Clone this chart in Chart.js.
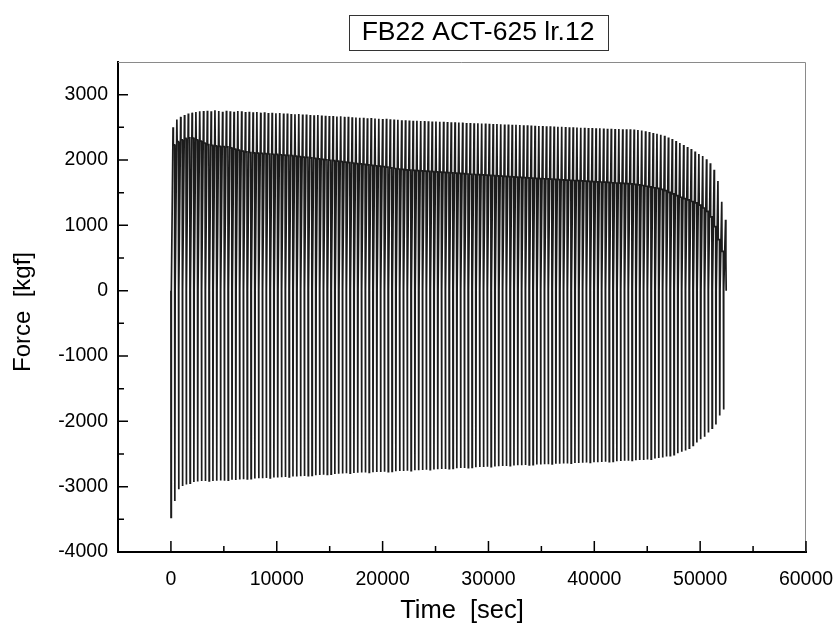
<!DOCTYPE html>
<html>
<head>
<meta charset="utf-8">
<script src="https://cdn.jsdelivr.net/npm/chart.js@4.4.0/dist/chart.umd.min.js"></script>
<style>
html, body { margin: 0; padding: 0; background: #fff; }
#wrap { width: 835px; height: 629px; }
</style>
</head>
<body>
<div id="wrap"><canvas id="forceChart" width="835" height="629"></canvas></div>
<script>
var chartTitle = 'FB22 ACT-625 lr.12';
var xTitle = 'Time  [sec]';
var yTitle = 'Force  [kgf]';

// start time of each load cycle [sec]
var cycleTimes = [
    0, 360, 720, 1080, 1440, 1800, 2160, 2520, 2880, 3240,
    3600, 3960, 4320, 4680, 5040, 5400, 5760, 6120, 6480, 6840,
    7200, 7560, 7920, 8280, 8640, 9000, 9360, 9720, 10080, 10440,
    10800, 11160, 11520, 11880, 12240, 12600, 12960, 13320, 13680, 14040,
    14400, 14760, 15120, 15480, 15840, 16200, 16560, 16920, 17280, 17640,
    18000, 18360, 18720, 19080, 19440, 19800, 20160, 20520, 20880, 21240,
    21600, 21960, 22320, 22680, 23040, 23400, 23760, 24120, 24480, 24840,
    25200, 25560, 25920, 26280, 26640, 27000, 27360, 27720, 28080, 28440,
    28800, 29160, 29520, 29880, 30240, 30600, 30960, 31320, 31680, 32040,
    32400, 32760, 33120, 33480, 33840, 34200, 34560, 34920, 35280, 35640,
    36000, 36360, 36720, 37080, 37440, 37800, 38160, 38520, 38880, 39240,
    39600, 39960, 40320, 40680, 41040, 41400, 41760, 42120, 42480, 42840,
    43200, 43560, 43920, 44280, 44640, 45000, 45360, 45720, 46080, 46440,
    46800, 47160, 47520, 47880, 48240, 48600, 48960, 49320, 49680, 50040,
    50400, 50760, 51120, 51480, 51840, 52200
];

// max force of each cycle [kgf]
var peakForce = [
    2500, 2620, 2660, 2690, 2710, 2725, 2735, 2745, 2750, 2755,
    2745, 2760, 2750, 2740, 2755, 2745, 2740, 2750, 2745, 2735,
    2740, 2730, 2735, 2725, 2730, 2720, 2725, 2715, 2718, 2710,
    2712, 2705, 2700, 2705, 2695, 2698, 2690, 2685, 2688, 2680,
    2678, 2672, 2675, 2665, 2668, 2660, 2662, 2655, 2652, 2648,
    2645, 2640, 2642, 2635, 2632, 2628, 2630, 2622, 2618, 2615,
    2610, 2608, 2605, 2602, 2600, 2598, 2595, 2592, 2590, 2588,
    2586, 2584, 2580, 2578, 2576, 2574, 2572, 2568, 2566, 2564,
    2562, 2560, 2558, 2555, 2552, 2550, 2548, 2545, 2542, 2540,
    2538, 2535, 2533, 2530, 2528, 2525, 2522, 2520, 2518, 2515,
    2512, 2510, 2508, 2505, 2502, 2500, 2498, 2495, 2493, 2490,
    2488, 2486, 2484, 2482, 2480, 2478, 2476, 2474, 2472, 2471,
    2470, 2465, 2460, 2450, 2440, 2430, 2415, 2400, 2385, 2370,
    2345, 2320, 2290, 2260, 2230, 2200, 2170, 2130, 2090, 2060,
    2010, 1950, 1850, 1680, 1360, 1085
];

// force level held between peaks [kgf]
var holdForce = [
    2230, 2280, 2310, 2330, 2340, 2335, 2310, 2290, 2260, 2235,
    2225, 2215, 2210, 2205, 2200, 2185, 2165, 2150, 2135, 2125,
    2115, 2110, 2105, 2100, 2098, 2092, 2088, 2085, 2080, 2076,
    2072, 2066, 2060, 2052, 2045, 2040, 2032, 2025, 2018, 2010,
    2004, 1996, 1990, 1982, 1975, 1968, 1960, 1954, 1946, 1940,
    1932, 1926, 1918, 1912, 1905, 1898, 1890, 1880, 1870, 1862,
    1855, 1850, 1846, 1842, 1838, 1834, 1830, 1826, 1822, 1818,
    1814, 1810, 1806, 1802, 1798, 1794, 1790, 1786, 1782, 1778,
    1775, 1772, 1768, 1764, 1760, 1756, 1752, 1748, 1745, 1742,
    1738, 1734, 1730, 1727, 1724, 1720, 1716, 1713, 1710, 1706,
    1703, 1700, 1696, 1693, 1690, 1686, 1683, 1680, 1676, 1673,
    1670, 1666, 1663, 1660, 1656, 1652, 1648, 1645, 1641, 1638,
    1635, 1628, 1620, 1610, 1598, 1590, 1575, 1565, 1550, 1530,
    1505, 1480, 1455, 1430, 1410, 1390, 1365, 1345, 1310, 1265,
    1215, 1130, 980, 780, 600, 480
];

// min force of each cycle [kgf]
var troughForce = [
    -3470, -3220, -3040, -2990, -2965, -2945, -2930, -2920, -2915, -2915,
    -2912, -2915, -2910, -2905, -2908, -2900, -2895, -2898, -2890, -2885,
    -2882, -2878, -2876, -2872, -2870, -2866, -2864, -2860, -2858, -2855,
    -2852, -2850, -2846, -2844, -2840, -2836, -2832, -2828, -2825, -2820,
    -2816, -2812, -2808, -2805, -2802, -2798, -2795, -2792, -2790, -2787,
    -2784, -2782, -2780, -2778, -2776, -2774, -2772, -2770, -2768, -2765,
    -2762, -2760, -2757, -2754, -2750, -2748, -2745, -2742, -2740, -2737,
    -2734, -2731, -2728, -2725, -2722, -2719, -2716, -2713, -2710, -2707,
    -2704, -2700, -2698, -2695, -2692, -2690, -2687, -2684, -2682, -2679,
    -2676, -2674, -2672, -2669, -2667, -2664, -2662, -2660, -2657, -2655,
    -2652, -2650, -2648, -2646, -2644, -2641, -2639, -2637, -2635, -2632,
    -2630, -2628, -2625, -2622, -2620, -2617, -2614, -2611, -2608, -2605,
    -2602, -2599, -2596, -2593, -2590, -2585, -2578, -2570, -2562, -2552,
    -2540, -2526, -2510, -2490, -2466, -2445, -2410, -2370, -2325, -2275,
    -2235, -2170, -2105, -2050, -1910, -1820
];

var xTickValues = [0, 10000, 20000, 30000, 40000, 50000, 60000];
var xMinorValues = [5000, 15000, 25000, 35000, 45000, 55000];
var yTickValues = [-4000, -3000, -2000, -1000, 0, 1000, 2000, 3000];
var yMinorValues = [-3500, -2500, -1500, -500, 500, 1500, 2500];

// force trace: drop to trough, back to zero, ramp to peak, settle on hold level
var points = [{x: 0, y: 0}];
for (var i = 0; i < cycleTimes.length; i++) {
    var t = cycleTimes[i];
    points.push({x: t + 10, y: troughForce[i]});
    points.push({x: t + 40, y: 0});
    points.push({x: t + 200, y: peakForce[i]});
    points.push({x: t + 230, y: holdForce[i]});
    if (i < cycleTimes.length - 1) {
        points.push({x: t + 345, y: holdForce[i]});
    } else {
        points.push({x: t + 260, y: 0});
    }
}

var fontFamily = 'Arial, "Liberation Sans", sans-serif';
Chart.defaults.font.family = fontFamily;
Chart.defaults.color = '#000';

var frame = {
    id: 'frame',
    afterDraw: function(chart) {
        var ctx = chart.ctx;
        var a = chart.chartArea;
        var xs = chart.scales.x, ys = chart.scales.y;
        ctx.save();
        // top and right edge
        ctx.strokeStyle = '#8a8a8a';
        ctx.lineWidth = 1;
        ctx.beginPath();
        ctx.moveTo(a.left, a.top + 0.5);
        ctx.lineTo(a.right - 0.5, a.top + 0.5);
        ctx.lineTo(a.right - 0.5, a.bottom);
        ctx.stroke();
        // inward ticks
        ctx.strokeStyle = '#000';
        ctx.lineWidth = 1.5;
        ctx.beginPath();
        xTickValues.forEach(function(v) {
            var px = xs.getPixelForValue(v);
            ctx.moveTo(px, a.bottom); ctx.lineTo(px, a.bottom - 11);
        });
        xMinorValues.forEach(function(v) {
            var px = xs.getPixelForValue(v);
            ctx.moveTo(px, a.bottom); ctx.lineTo(px, a.bottom - 6);
        });
        yTickValues.forEach(function(v) {
            var py = ys.getPixelForValue(v);
            ctx.moveTo(a.left, py); ctx.lineTo(a.left + 10, py);
        });
        yMinorValues.forEach(function(v) {
            var py = ys.getPixelForValue(v);
            ctx.moveTo(a.left, py); ctx.lineTo(a.left + 6, py);
        });
        ctx.stroke();
        ctx.fillStyle = '#000';
        ctx.textAlign = 'center';
        ctx.textBaseline = 'middle';
        // axis titles
        ctx.font = '25.5px ' + fontFamily;
        ctx.fillText(xTitle, (a.left + a.right) / 2, 611);
        ctx.save();
        ctx.translate(23, 312);
        ctx.rotate(-Math.PI / 2);
        ctx.font = '24px ' + fontFamily;
        ctx.fillText(yTitle, 0, 0);
        ctx.restore();
        // boxed title
        ctx.font = '26.5px ' + fontFamily;
        var cx = 478, cy = 33;
        ctx.fillText(chartTitle, cx, cy);
        var w = ctx.measureText(chartTitle).width;
        ctx.strokeStyle = '#333';
        ctx.lineWidth = 1;
        ctx.strokeRect(Math.round(cx - w / 2 - 13) + 0.5, 15.5, Math.round(w + 26), 35);
        ctx.restore();
    }
};

var forceChart = new Chart(document.getElementById('forceChart'), {
    type: 'line',
    data: {
        datasets: [{
            label: 'Force',
            data: points,
            borderColor: '#1c1c1c',
            borderWidth: 1.7,
            pointRadius: 0,
            tension: 0,
            fill: false
        }]
    },
    options: {
        responsive: false,
        animation: false,
        events: [],
        layout: { padding: { top: 62, right: 29, left: 0, bottom: 0 } },
        plugins: {
            legend: { display: false },
            title: { display: false },
            tooltip: { enabled: false }
        },
        scales: {
            x: {
                type: 'linear',
                min: -5000,
                max: 60000,
                afterBuildTicks: function(s) { s.ticks = xTickValues.map(function(v) { return {value: v}; }); },
                afterFit: function(s) { s.height = 77; s.paddingLeft = 0; s.paddingRight = 0; },
                grid: { display: false, drawTicks: false },
                border: { display: true, color: '#000', width: 2 },
                ticks: {
                    color: '#000', font: { size: 19.5 }, padding: 16,
                    maxRotation: 0, autoSkip: false,
                    callback: function(v) { return String(v); }
                }
            },
            y: {
                type: 'linear',
                min: -4000,
                max: 3500,
                afterBuildTicks: function(s) { s.ticks = yTickValues.map(function(v) { return {value: v}; }); },
                afterFit: function(s) { s.width = 118; s.paddingTop = 0; s.paddingBottom = 0; },
                grid: { display: false, drawTicks: false },
                border: { display: true, color: '#000', width: 2 },
                ticks: {
                    color: '#000', font: { size: 19.5 }, padding: 10,
                    autoSkip: false,
                    callback: function(v) { return String(v); }
                }
            }
        }
    },
    plugins: [frame]
});
</script>
</body>
</html>
